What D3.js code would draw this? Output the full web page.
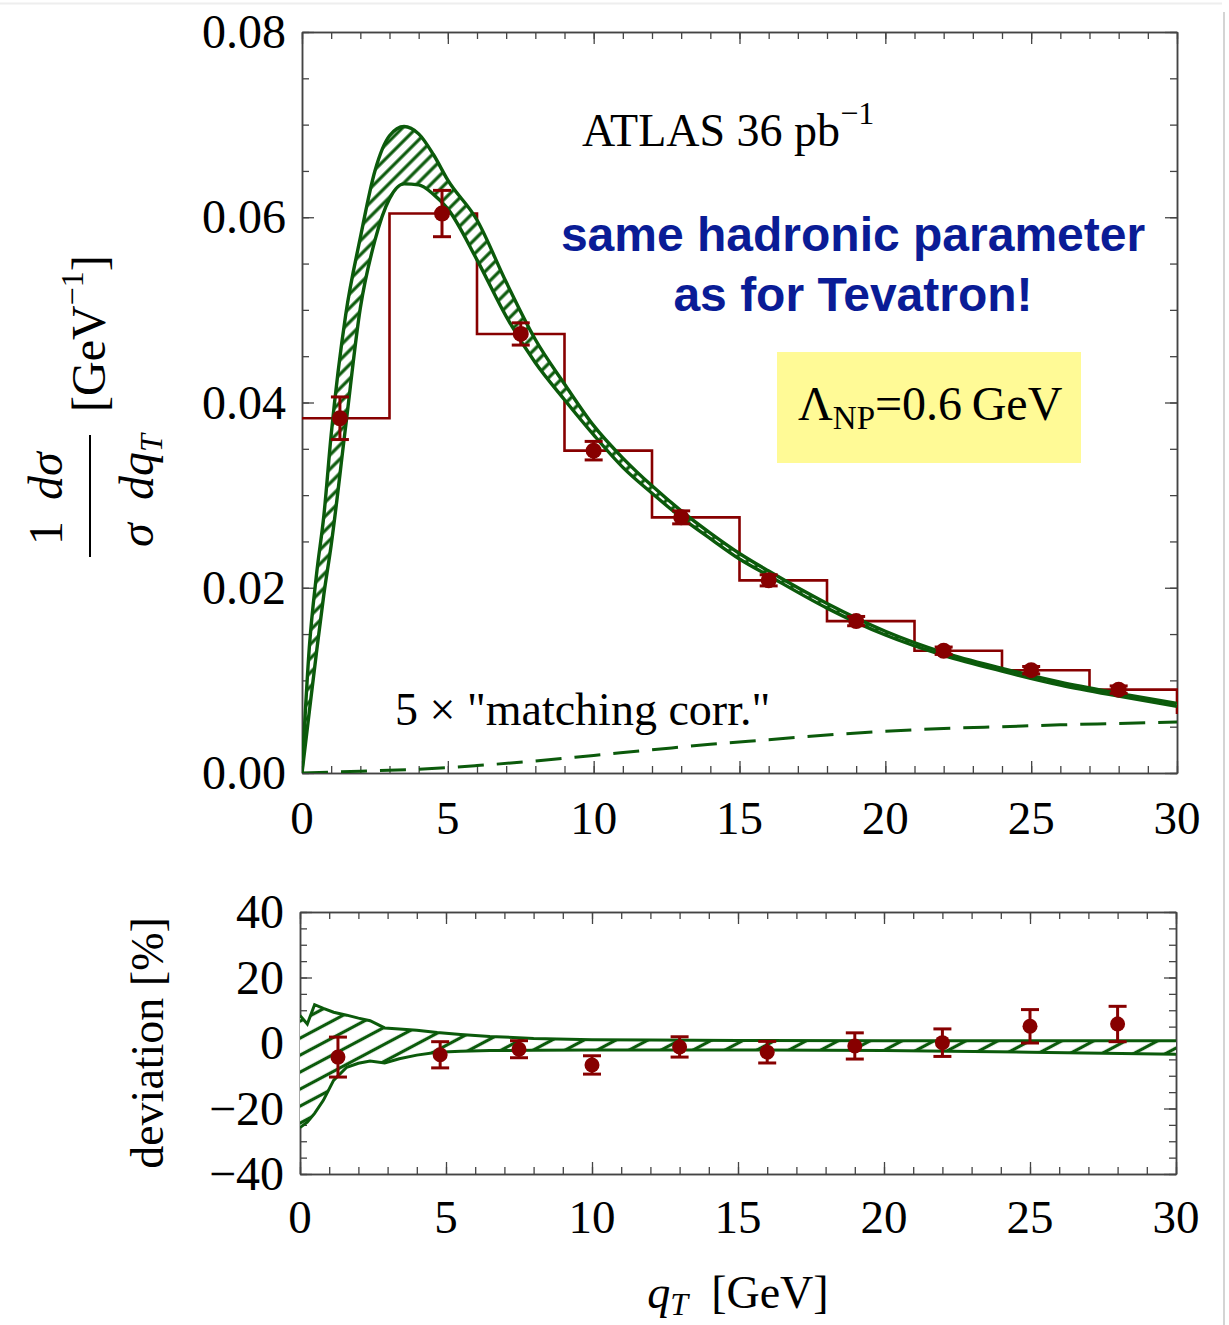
<!DOCTYPE html>
<html lang="en">
<head>
<meta charset="utf-8">
<title>ATLAS 36 pb-1 - qT spectrum</title>
<script src="https://cdn.jsdelivr.net/npm/d3@7/dist/d3.min.js"></script>
<style>
  body { margin: 0; background: #fff; }
  svg text { font-family: "Liberation Serif", "Times New Roman", serif; fill: #000; }
  .note { font-family: "Liberation Sans", Arial, sans-serif; font-weight: bold; fill: #0a1c96; }
  .tick line { stroke: #444; stroke-width: 1.3; }
  .domain { stroke: #444; stroke-width: 1.5; }
</style>
</head>
<body>
<script>
// ---- data ----
// histogram (ATLAS data, 3 GeV bins), last bin is cut by the frame
const binEdges = [0, 3, 6, 9, 12, 15, 18, 21, 24, 27, 30, 33];
const histVals = [0.0383, 0.0604, 0.0474, 0.0348, 0.0276, 0.0208, 0.0164, 0.0132, 0.0111, 0.0090, 0.0065];

// data points (upper panel)
const dataQ   = [1.3, 4.8, 7.5, 10.0, 13.0, 16.0, 19.0, 22.0, 25.0, 28.0];
const dataVal = [0.0383, 0.0604, 0.0474, 0.0348, 0.0276, 0.0208, 0.0164, 0.0132, 0.0111, 0.0090];
const dataErr = [0.0023, 0.0025, 0.0012, 0.0010, 0.0007, 0.0006, 0.0005, 0.0004, 0.0004, 0.0004];

// theory band (upper panel)
const bandQ   = [0, 0.25, 0.5, 0.75, 1, 1.5, 2, 2.5, 3, 3.5, 4, 4.5, 5, 6, 7, 8, 9, 10, 11, 12, 13, 14, 15, 16, 18, 20, 22, 24, 26, 28, 30];
const bandUp  = [0, 0.0135, 0.0215, 0.0278, 0.0365, 0.0495, 0.0578, 0.0650, 0.0688, 0.0698, 0.0690, 0.0668, 0.0640, 0.0597, 0.0530, 0.0468, 0.0420, 0.0375, 0.0340, 0.0310, 0.0283, 0.0259, 0.0237, 0.0218, 0.0183, 0.0153, 0.0130, 0.0113, 0.0098, 0.0086, 0.0075];
const bandLow = [0, 0.0066, 0.0131, 0.0193, 0.0246, 0.0375, 0.0502, 0.0575, 0.0620, 0.0636, 0.0635, 0.0625, 0.0609, 0.0554, 0.0493, 0.0443, 0.0403, 0.0365, 0.0330, 0.0302, 0.0276, 0.0253, 0.0231, 0.0213, 0.0178, 0.0149, 0.0127, 0.0110, 0.0095, 0.0083, 0.0072];

// 5 x "matching corr." (dashed)
const corrQ   = [0, 2, 4, 6, 8, 10, 12, 14, 16, 18, 20, 22, 24, 26, 28, 30];
const corrVal = [0, 0.0002, 0.0004, 0.0008, 0.0013, 0.0019, 0.0025, 0.0031, 0.0036, 0.0041, 0.0045, 0.0048, 0.0050, 0.0052, 0.00535, 0.0055];

// lower panel: deviation band and points [%]
const devBandQ   = [0, 0.25, 0.5, 0.8, 1.15, 1.6, 2, 2.4, 2.9, 3.4, 4, 4.7, 5.5, 6.5, 8, 10, 12, 15, 20, 25, 30];
const devBandUp  = [8.4, 5.8, 11.7, 10.6, 9.4, 8.5, 7.6, 6.8, 4.6, 4.3, 3.9, 3.2, 2.6, 2.0, 1.4, 1.0, 0.9, 0.8, 0.7, 0.7, 0.7];
const devBandLow = [-25.8, -24.2, -21.5, -17.5, -11.4, -7.4, -6.2, -5.5, -6.1, -4.8, -3.7, -2.8, -2.5, -2.3, -2.2, -2.1, -2.1, -2.1, -2.3, -2.8, -3.4];
const devVal = [-4.3, -3.6, -1.9, -6.7, -1.2, -2.8, -0.9, 0.1, 5.1, 5.8];
const devErr = [6.1, 4.0, 2.6, 2.8, 3.1, 3.3, 4.0, 4.2, 5.1, 5.4];

// tick labels
const topXTicks = [0, 5, 10, 15, 20, 25, 30];
const topYTicks = [0, 0.02, 0.04, 0.06, 0.08];
const botYTicks = [-40, -20, 0, 20, 40];

const green = '#0b5a0b';
const red = '#870000';

const width = 1229, height = 1325;
const svg = d3.select('body').append('svg').attr('width', width).attr('height', height);

// faint slide border
svg.append('line').attr('x1', 0).attr('x2', 1222).attr('y1', 3.5).attr('y2', 3.5)
  .attr('stroke', '#eeeeee').attr('stroke-width', 2);
svg.append('line').attr('x1', 1224).attr('x2', 1224).attr('y1', 12).attr('y2', height)
  .attr('stroke', '#d4d4d4').attr('stroke-width', 2);

const x1 = d3.scaleLinear().domain([0, 30]).range([302, 1177]);
const y1 = d3.scaleLinear().domain([0, 0.08]).range([773, 32]);
const x2 = d3.scaleLinear().domain([0, 30]).range([300, 1176]);
const y2 = d3.scaleLinear().domain([-40, 40]).range([1174, 912]);

const defs = svg.append('defs');
function hatch(id, gap, angle, sw) {
  const p = defs.append('pattern').attr('id', id)
    .attr('patternUnits', 'userSpaceOnUse')
    .attr('width', 10).attr('height', gap)
    .attr('patternTransform', 'rotate(' + angle + ')');
  p.append('rect').attr('width', 10).attr('height', gap).attr('fill', '#fff');
  p.append('line').attr('x1', -1).attr('x2', 11).attr('y1', gap / 2).attr('y2', gap / 2)
    .attr('stroke', green).attr('stroke-width', sw);
}
hatch('hatchTop', 10, -45, 3.2);
hatch('hatchBot', 15, -28, 3.2);

defs.append('clipPath').attr('id', 'clipTop').append('rect')
  .attr('x', 302).attr('y', 32).attr('width', 876).attr('height', 741);
defs.append('clipPath').attr('id', 'clipBot').append('rect')
  .attr('x', 300).attr('y', 912).attr('width', 877).attr('height', 262);

// ---- frames and ticks ----
function range(a, b, s) { return d3.range(a, b + s / 2, s).map(v => +v.toFixed(6)); }

function frame(x, y, xMinor, xMajor, yMinor, yMajor) {
  const [x0, x3] = x.range(), [yb, yt] = y.range();
  const g = svg.append('g');
  [[xMinor, 7], [xMajor, 12]].forEach(([vals, len]) => {
    g.append('g').attr('transform', 'translate(0,' + yb + ')')
      .call(d3.axisBottom(x).tickValues(vals).tickSize(-len).tickSizeOuter(0).tickFormat(''));
    g.append('g').attr('transform', 'translate(0,' + yt + ')')
      .call(d3.axisTop(x).tickValues(vals).tickSize(-len).tickSizeOuter(0).tickFormat(''));
  });
  [[yMinor, 7], [yMajor, 12]].forEach(([vals, len]) => {
    g.append('g').attr('transform', 'translate(' + x0 + ',0)')
      .call(d3.axisLeft(y).tickValues(vals).tickSize(-len).tickSizeOuter(0).tickFormat(''));
    g.append('g').attr('transform', 'translate(' + x3 + ',0)')
      .call(d3.axisRight(y).tickValues(vals).tickSize(-len).tickSizeOuter(0).tickFormat(''));
  });
  g.selectAll('text').remove();
  return g;
}

frame(x1, y1, range(0, 30, 1), topXTicks, range(0, 0.08, 0.005), topYTicks);
frame(x2, y2, range(0, 30, 1), topXTicks, range(-40, 40, 5), botYTicks);

// tick labels
function xLabels(x, base) {
  svg.append('g').selectAll('text').data(topXTicks).join('text')
    .attr('x', d => x(d)).attr('y', base).attr('text-anchor', 'middle')
    .attr('font-size', 47).text(d => d);
}
function yLabels(y, ticks, fmt, xr) {
  svg.append('g').selectAll('text').data(ticks).join('text')
    .attr('x', xr).attr('y', d => y(d) + 16).attr('text-anchor', 'end')
    .attr('font-size', 48).text(fmt);
}
xLabels(x1, 834);
xLabels(x2, 1233);
yLabels(y1, topYTicks, d3.format('.2f'), 286);
yLabels(y2, botYTicks, d3.format('d'), 284);

// ---- upper panel content ----
const upper = svg.append('g').attr('clip-path', 'url(#clipTop)');

const histLine = d3.line()
  .x(d => x1(d[0])).y(d => y1(d[1]))
  .curve(d3.curveStepAfter);
const histPts = binEdges.map((e, i) => [e, histVals[Math.min(i, histVals.length - 1)]]);
upper.append('path').attr('d', histLine(histPts))
  .attr('fill', 'none').attr('stroke', red).attr('stroke-width', 2.6);

const bandArea = d3.area()
  .x((d, i) => x1(bandQ[i])).y0((d, i) => y1(bandLow[i])).y1((d, i) => y1(bandUp[i]))
  .curve(d3.curveMonotoneX);
upper.append('path').attr('d', bandArea(bandQ)).attr('fill', 'url(#hatchTop)');
[bandUp, bandLow].forEach(arr => {
  upper.append('path')
    .attr('d', d3.line().x((d, i) => x1(bandQ[i])).y(d => y1(d)).curve(d3.curveMonotoneX)(arr))
    .attr('fill', 'none').attr('stroke', green).attr('stroke-width', 3.4);
});

upper.append('path')
  .attr('d', d3.line().x((d, i) => x1(corrQ[i])).y(d => y1(d)).curve(d3.curveMonotoneX)(corrVal))
  .attr('fill', 'none').attr('stroke', green).attr('stroke-width', 3)
  .attr('stroke-dasharray', '26,13');

function points(g, x, y, qs, vals, errs, r) {
  const pg = g.append('g').attr('stroke', red).attr('stroke-width', 3).attr('fill', red);
  qs.forEach((q, i) => {
    const cx = x(q), lo = y(vals[i] - errs[i]), hi = y(vals[i] + errs[i]);
    pg.append('line').attr('x1', cx).attr('x2', cx).attr('y1', lo).attr('y2', hi);
    pg.append('line').attr('x1', cx - 9).attr('x2', cx + 9).attr('y1', lo).attr('y2', lo);
    pg.append('line').attr('x1', cx - 9).attr('x2', cx + 9).attr('y1', hi).attr('y2', hi);
    pg.append('circle').attr('cx', cx).attr('cy', y(vals[i])).attr('r', r).attr('stroke', 'none');
  });
}
points(upper, x1, y1, dataQ, dataVal, dataErr, 8);

// ---- lower panel content ----
const lower = svg.append('g').attr('clip-path', 'url(#clipBot)');
const devArea = d3.area()
  .x((d, i) => x2(devBandQ[i])).y0((d, i) => y2(devBandLow[i])).y1((d, i) => y2(devBandUp[i]));
lower.append('path').attr('d', devArea(devBandQ)).attr('fill', 'url(#hatchBot)');
[devBandUp, devBandLow].forEach(arr => {
  lower.append('path')
    .attr('d', d3.line().x((d, i) => x2(devBandQ[i])).y(d => y2(d))(arr))
    .attr('fill', 'none').attr('stroke', green).attr('stroke-width', 3);
});
points(lower, x2, y2, dataQ, devVal, devErr, 7.5);

// ---- annotations ----
const atlas = svg.append('text').attr('x', 582).attr('y', 146).attr('font-size', 46);
atlas.append('tspan').text('ATLAS 36 pb');
atlas.append('tspan').attr('dy', -22).attr('font-size', 32).text('\u22121');

svg.append('text').attr('class', 'note').attr('x', 853).attr('y', 251)
  .attr('text-anchor', 'middle').attr('font-size', 48).text('same hadronic parameter');
svg.append('text').attr('class', 'note').attr('x', 853).attr('y', 311)
  .attr('text-anchor', 'middle').attr('font-size', 48).text('as for Tevatron!');

svg.append('rect').attr('x', 777).attr('y', 352).attr('width', 304).attr('height', 111)
  .attr('fill', '#fffa96');
const lam = svg.append('text').attr('x', 798).attr('y', 420).attr('font-size', 48);
lam.append('tspan').text('\u039B');
lam.append('tspan').attr('dy', 9).attr('font-size', 33).text('NP');
lam.append('tspan').attr('dy', -9).text('=0.6\u2009GeV');

svg.append('text').attr('x', 395).attr('y', 725).attr('font-size', 46)
  .text('5 \u00D7 "matching corr."');

// y label, upper panel: (1/sigma) dsigma/dqT [GeV^-1]
const yl = svg.append('g').attr('transform', 'translate(90,557) rotate(-90)').attr('font-size', 48);
yl.append('text').attr('x', 12).attr('y', -28).text('1');
yl.append('text').attr('x', 57).attr('y', -28).attr('font-style', 'italic').text('d\u03C3');
yl.append('line').attr('x1', 0).attr('x2', 122).attr('y1', 0).attr('y2', 0)
  .attr('stroke', '#000').attr('stroke-width', 2);
yl.append('text').attr('x', 10).attr('y', 63).attr('font-style', 'italic').text('\u03C3');
const dq = yl.append('text').attr('x', 57).attr('y', 63).attr('font-style', 'italic');
dq.append('tspan').text('dq');
dq.append('tspan').attr('dy', 9).attr('font-size', 32).text('T');
const gev = yl.append('text').attr('x', 145).attr('y', 15);
gev.append('tspan').text('[GeV');
gev.append('tspan').attr('dy', -22).attr('font-size', 32).text('\u22121');
gev.append('tspan').attr('dy', 22).text(']');

// y label, lower panel
svg.append('text').attr('transform', 'translate(163,1043) rotate(-90)')
  .attr('text-anchor', 'middle').attr('font-size', 46).text('deviation [%]');

// x label
const xl = svg.append('text').attr('x', 738).attr('y', 1308).attr('text-anchor', 'middle').attr('font-size', 46);
xl.append('tspan').attr('font-style', 'italic').text('q');
xl.append('tspan').attr('font-style', 'italic').attr('font-size', 32).attr('dy', 7).text('T');
xl.append('tspan').attr('dy', -7).text('\u2002[GeV]');
</script>
</body>
</html>
